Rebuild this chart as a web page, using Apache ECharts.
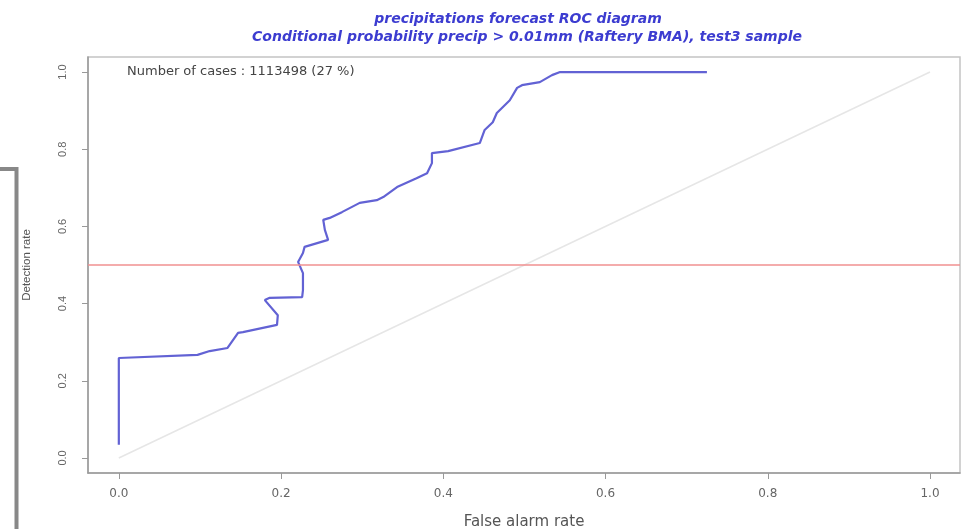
<!DOCTYPE html>
<html>
<head>
<meta charset="utf-8">
<script src="https://cdn.jsdelivr.net/npm/echarts@6/dist/echarts.min.js"></script>
<style>html,body{margin:0;padding:0;background:#fff;}#c{width:969px;height:529px;}</style>
</head>
<body>
<div id="c"></div>
<script>
// False alarm rate (x) and detection rate (y) of the ROC curve
const falseAlarm = [0.0, 0.0, 0.097, 0.112, 0.134, 0.147, 0.153, 0.195, 0.196, 0.180, 0.186, 0.226, 0.227, 0.227, 0.221, 0.227, 0.229, 0.258, 0.254, 0.252, 0.260, 0.275, 0.297, 0.318, 0.326, 0.343, 0.367, 0.380, 0.386, 0.386, 0.406, 0.445, 0.451, 0.461, 0.466, 0.482, 0.491, 0.497, 0.519, 0.534, 0.544, 0.725];
const detection  = [0.034, 0.259, 0.267, 0.277, 0.285, 0.324, 0.326, 0.345, 0.370, 0.409, 0.415, 0.417, 0.435, 0.479, 0.508, 0.531, 0.547, 0.565, 0.591, 0.617, 0.622, 0.637, 0.661, 0.668, 0.676, 0.702, 0.725, 0.738, 0.764, 0.790, 0.795, 0.816, 0.850, 0.870, 0.894, 0.927, 0.959, 0.966, 0.974, 0.992, 1.0, 1.0];
const diagX = [0, 1];
const diagY = [0, 1];
const refLevel = 0.5;
const tickValues = [0, 0.2, 0.4, 0.6, 0.8, 1.0];
const titleLines = ['precipitations forecast ROC diagram', 'Conditional probability precip > 0.01mm (Raftery BMA), test3 sample'];
const casesText = 'Number of cases : 1113498 (27 %)';

const chart = echarts.init(document.getElementById('c'), null, {renderer: 'canvas'});
const fnt = 'Liberation Sans, Arial, sans-serif';
const wide = 'DejaVu Sans, sans-serif';
const axisCommon = {
  type: 'value',
  axisLine: {show: true, onZero: false, lineStyle: {color: '#999', width: 1.5}},
  axisTick: {show: true, length: 6, lineStyle: {color: '#999'}, customValues: tickValues},
  axisLabel: {color: '#666', fontSize: 11, fontFamily: fnt, customValues: tickValues, formatter: v => v.toFixed(1)},
  splitLine: {show: false},
  nameLocation: 'middle',
  nameTextStyle: {color: '#555', fontSize: 11, fontFamily: fnt}
};
chart.setOption({
  animation: false,
  backgroundColor: '#fff',
  title: [
    {text: titleLines[0], left: 513, top: 7, textAlign: 'center',
     textStyle: {color: '#3c3cd0', fontSize: 14, fontStyle: 'italic', fontWeight: 'bold', fontFamily: wide}},
    {text: titleLines[1], left: 522, top: 25, textAlign: 'center',
     textStyle: {color: '#3c3cd0', fontSize: 14, fontStyle: 'italic', fontWeight: 'bold', fontFamily: wide}}
  ],
  grid: {left: 88, right: 9, top: 57, bottom: 56, show: true, borderColor: '#c4c4c4', borderWidth: 1.5,
         containLabel: false, outerBoundsMode: 'none'},
  xAxis: Object.assign({}, axisCommon, {min: -0.038, max: 1.037, name: 'False alarm rate', nameGap: 42,
    nameTextStyle: {color: '#555', fontSize: 15, fontFamily: wide},
    axisLabel: Object.assign({}, axisCommon.axisLabel, {margin: 15, fontSize: 12, fontFamily: wide})}),
  yAxis: Object.assign({}, axisCommon, {min: -0.039, max: 1.039, name: 'Detection rate', nameGap: 55,
    nameTextStyle: {color: '#555', fontSize: 11.5, fontFamily: fnt},
    axisLabel: Object.assign({}, axisCommon.axisLabel, {rotate: 90, margin: 20})}),
  graphic: [
    {type: 'text', left: 127, top: 65, style: {text: casesText, fill: '#444', font: '13px ' + wide}},
    {type: 'polyline', shape: {points: [[0, 169], [16.5, 169], [16.5, 529]]}, style: {stroke: '#888', lineWidth: 4, fill: null}}
  ],
  series: [
    {type: 'line', data: diagX.map((x, i) => [x, diagY[i]]), symbol: 'none',
     lineStyle: {color: '#e6e6e6', width: 1.5}, z: 1},
    {type: 'line', data: falseAlarm.map((x, i) => [x, detection[i]]), symbol: 'none',
     lineStyle: {color: '#6262d4', width: 2.2}, z: 3,
     markLine: {silent: true, symbol: 'none', label: {show: false},
       lineStyle: {color: '#f09090', type: 'solid', width: 1.5}, data: [{yAxis: refLevel}]}}
  ]
});
</script>
</body>
</html>
